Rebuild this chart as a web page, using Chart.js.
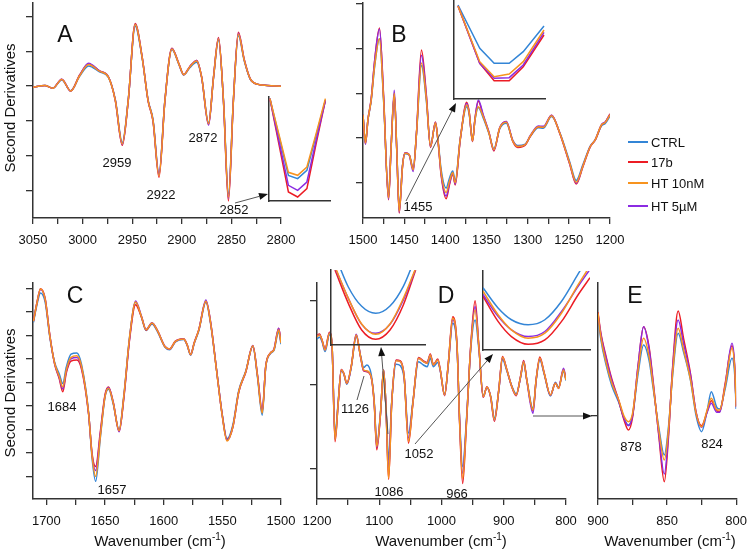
<!DOCTYPE html>
<html>
<head>
<meta charset="utf-8">
<script src="https://cdn.jsdelivr.net/npm/chart.js@4.4.0/dist/chart.umd.min.js"></script>
<style>
  html, body { margin: 0; padding: 0; background: #fff; }
  #wrap { position: relative; width: 756px; height: 551px; overflow: hidden;
          font-family: "Liberation Sans", Arial, sans-serif; color: #111; }
  #wrap canvas { position: absolute; left: 0; top: 0; }
  .t { position: absolute; white-space: nowrap; transform: translate(-50%, -50%);
       font-size: 13px; line-height: 1; }
  .big { font-size: 23px; }
  .yt { font-size: 15px; transform: translate(-50%, -50%) rotate(-90deg); }
  .xt { font-size: 15px; }
  .xt sup { font-size: 10px; vertical-align: baseline; position: relative; top: -6px; }
  .lg { position: absolute; left: 628px; width: 20px; height: 0; border-top: 2px solid; }
  .lt { position: absolute; left: 651px; font-size: 13px; line-height: 1; transform: translateY(-50%); }
</style>
</head>
<body>
<div id="wrap">
  <canvas id="cA" width="756" height="551"></canvas>
  <canvas id="cB" width="756" height="551"></canvas>
  <canvas id="cC" width="756" height="551"></canvas>
  <canvas id="cD" width="756" height="551"></canvas>
  <canvas id="cE" width="756" height="551"></canvas>
  <canvas id="iA" width="756" height="551"></canvas>
  <canvas id="iB" width="756" height="551"></canvas>
  <canvas id="iD1" width="756" height="551"></canvas>
  <canvas id="iD2" width="756" height="551"></canvas>

  <div class="t yt" style="left:9px;top:108px">Second Derivatives</div>
  <div class="t yt" style="left:9px;top:393px">Second Derivatives</div>
  <div class="t xt" style="left:160px;top:540px">Wavenumber (cm<sup>-1</sup>)</div>
  <div class="t xt" style="left:441px;top:540px">Wavenumber (cm<sup>-1</sup>)</div>
  <div class="t xt" style="left:670px;top:540px">Wavenumber (cm<sup>-1</sup>)</div>

  <div class="t big" style="left:65px;top:34px">A</div>
  <div class="t big" style="left:399px;top:34px">B</div>
  <div class="t big" style="left:75px;top:295px">C</div>
  <div class="t big" style="left:446px;top:295px">D</div>
  <div class="t big" style="left:635px;top:295px">E</div>

  <div class="t" style="left:117px;top:162px">2959</div>
  <div class="t" style="left:161px;top:194px">2922</div>
  <div class="t" style="left:203px;top:137px">2872</div>
  <div class="t" style="left:234px;top:209px">2852</div>
  <div class="t" style="left:418px;top:206px">1455</div>
  <div class="t" style="left:62px;top:406px">1684</div>
  <div class="t" style="left:112px;top:489px">1657</div>
  <div class="t" style="left:355px;top:408px">1126</div>
  <div class="t" style="left:389px;top:491px">1086</div>
  <div class="t" style="left:419px;top:453px">1052</div>
  <div class="t" style="left:457px;top:493px">966</div>
  <div class="t" style="left:631px;top:446px">878</div>
  <div class="t" style="left:712px;top:443px">824</div>

  <div class="lg" style="top:141px;border-color:#3385d6"></div><div class="lt" style="top:142px">CTRL</div>
  <div class="lg" style="top:161px;border-color:#ec1c24"></div><div class="lt" style="top:162px">17b</div>
  <div class="lg" style="top:182px;border-color:#f7931e"></div><div class="lt" style="top:183px">HT 10nM</div>
  <div class="lg" style="top:205px;border-color:#8b2be2"></div><div class="lt" style="top:206px">HT 5µM</div>
</div>

<script>
// ── Panel A: 3050–2800 cm-1 ──
const aX    = [3050, 3038, 3030, 3021, 3012, 3003, 2994, 2983, 2974, 2967, 2960, 2954, 2947, 2940, 2934, 2929, 2923, 2917, 2910, 2903, 2898, 2892, 2885, 2880, 2873, 2868, 2863, 2858, 2853, 2848, 2843, 2837, 2831, 2823, 2814, 2800];
const aCtrl = [-0.03, 0.02, -0.06, 0.18, -0.13, 0.28, 0.58, 0.41, 0.25, -0.39, -1.62, -0.40, 1.72, 0.81, -0.40, -0.96, -2.52, -0.40, 1.05, 0.63, 0.32, 0.53, 0.69, 0.25, -1.05, 0.25, 1.32, -0.40, -3.10, -0.40, 1.45, 0.72, 0.20, 0.05, 0.02, 0.00];
const a17b  = [-0.03, 0.02, -0.06, 0.20, -0.14, 0.32, 0.64, 0.44, 0.27, -0.42, -1.70, -0.42, 1.80, 0.85, -0.42, -1.01, -2.62, -0.42, 1.09, 0.65, 0.33, 0.56, 0.74, 0.26, -1.10, 0.27, 1.40, -0.43, -3.30, -0.43, 1.55, 0.76, 0.21, 0.05, 0.02, 0.00];
const aHt10 = [-0.03, 0.02, -0.06, 0.19, -0.14, 0.30, 0.62, 0.43, 0.26, -0.41, -1.66, -0.41, 1.77, 0.83, -0.41, -0.99, -2.58, -0.41, 1.07, 0.64, 0.33, 0.55, 0.72, 0.26, -1.08, 0.26, 1.36, -0.41, -3.19, -0.41, 1.50, 0.74, 0.21, 0.05, 0.02, 0.00];
const aHt5  = [-0.03, 0.02, -0.06, 0.20, -0.14, 0.31, 0.66, 0.44, 0.27, -0.41, -1.68, -0.41, 1.78, 0.84, -0.41, -1.00, -2.55, -0.41, 1.08, 0.64, 0.33, 0.56, 0.74, 0.26, -1.12, 0.26, 1.38, -0.42, -3.22, -0.42, 1.52, 0.75, 0.21, 0.05, 0.02, 0.00];
const aTicks = [3050, 3025, 3000, 2975, 2950, 2925, 2900, 2875, 2850, 2825, 2800];
const aLabels = [3050, 3000, 2950, 2900, 2850, 2800];

// ── Panel B: 1500–1200 cm-1 ──
const bX    = [1500, 1497, 1494, 1490, 1486, 1480, 1475, 1469, 1466, 1462, 1459, 1456, 1452, 1449, 1444, 1439, 1435, 1429, 1423, 1418, 1412, 1409, 1405, 1399, 1395, 1391, 1388, 1382, 1374, 1371, 1367, 1364, 1360, 1354, 1347, 1341, 1334, 1326, 1318, 1312, 1303, 1297, 1287, 1281, 1271, 1261, 1249, 1241, 1233, 1224, 1218, 1210, 1206, 1200];
const bCtrl = [0.52, -0.10, 0.40, 0.84, 1.58, 2.22, 0.84, -1.30, -0.24, 0.96, -0.24, -1.60, -0.61, -0.35, -0.37, -0.68, 0.10, 1.62, 0.82, -0.17, 0.33, -0.03, -0.72, -1.12, -0.90, -0.74, -0.96, -0.03, 0.70, 0.53, -0.05, 0.40, 0.68, 0.45, 0.10, -0.24, 0.20, 0.33, -0.06, -0.17, -0.14, 0.03, 0.23, 0.22, 0.48, 0.12, -0.53, -0.95, -0.60, -0.18, -0.04, 0.28, 0.32, 0.49];
const b17b  = [0.52, -0.13, 0.41, 0.88, 1.70, 2.46, 0.95, -1.38, -0.28, 0.98, -0.28, -1.68, -0.63, -0.33, -0.37, -0.70, 0.13, 1.97, 0.95, -0.21, 0.36, -0.05, -0.85, -1.36, -1.05, -0.80, -1.05, -0.06, 0.80, 0.58, -0.08, 0.43, 0.82, 0.50, 0.12, -0.29, 0.22, 0.37, -0.08, -0.21, -0.16, 0.03, 0.25, 0.24, 0.51, 0.10, -0.58, -1.03, -0.65, -0.20, -0.05, 0.30, 0.35, 0.54];
const bHt10 = [0.52, -0.11, 0.41, 0.86, 1.60, 2.22, 0.86, -1.34, -0.26, 1.00, -0.26, -1.64, -0.63, -0.34, -0.37, -0.71, 0.11, 1.68, 0.86, -0.19, 0.34, -0.04, -0.78, -1.22, -0.97, -0.77, -1.00, -0.04, 0.74, 0.56, -0.07, 0.41, 0.70, 0.48, 0.11, -0.26, 0.22, 0.35, -0.07, -0.19, -0.15, 0.04, 0.25, 0.24, 0.50, 0.11, -0.56, -0.99, -0.63, -0.19, -0.04, 0.30, 0.34, 0.52];
const bHt5  = [0.52, -0.14, 0.41, 0.88, 1.70, 2.44, 0.92, -1.37, -0.26, 1.07, -0.27, -1.66, -0.63, -0.33, -0.38, -0.75, 0.12, 1.85, 0.92, -0.20, 0.35, -0.04, -0.82, -1.30, -1.02, -0.79, -1.03, -0.05, 0.77, 0.57, -0.07, 0.42, 0.85, 0.52, 0.13, -0.27, 0.23, 0.37, -0.06, -0.19, -0.15, 0.05, 0.27, 0.26, 0.51, 0.11, -0.57, -1.01, -0.63, -0.19, -0.04, 0.31, 0.35, 0.53];
const bTicks = [1500, 1475, 1450, 1425, 1400, 1375, 1350, 1325, 1300, 1275, 1250, 1225, 1200];
const bLabels = [1500, 1450, 1400, 1350, 1300, 1250, 1200];

// ── Panel C: 1711–1500 cm-1 ──
const cX    = [1711, 1708, 1705, 1701, 1697, 1693, 1689, 1686, 1683, 1679, 1674, 1670, 1664, 1661, 1658, 1654, 1650, 1647, 1643, 1638, 1634, 1629, 1624, 1619, 1615, 1610, 1605, 1599, 1595, 1590, 1583, 1580, 1577, 1574, 1570, 1564, 1560, 1555, 1550, 1546, 1541, 1536, 1530, 1524, 1520, 1516, 1513, 1509, 1506, 1502, 1500];
const cCtrl = [1.55, 2.30, 2.80, 2.40, 0.90, -0.15, -0.65, -1.05, -0.35, 0.20, 0.25, -0.25, -2.30, -4.25, -5.21, -3.35, -1.62, -1.30, -1.92, -3.02, -1.58, 0.95, 2.40, 1.78, 1.20, 1.48, 1.12, 0.50, 0.38, 0.72, 0.82, 0.57, 0.15, 0.65, 1.20, 2.40, 1.48, -0.45, -2.40, -3.40, -2.80, -1.35, -0.52, 0.52, -0.80, -2.40, -0.35, 0.22, 0.35, 1.15, 0.62];
const c17b  = [1.62, 2.40, 2.98, 2.55, 0.98, -0.22, -0.85, -1.40, -0.60, -0.10, -0.05, -0.45, -2.35, -4.05, -4.58, -3.10, -1.52, -1.20, -1.85, -3.08, -1.68, 0.85, 2.30, 1.78, 1.22, 1.52, 1.16, 0.52, 0.42, 0.75, 0.85, 0.60, 0.18, 0.68, 1.25, 2.44, 1.55, -0.45, -2.42, -3.45, -2.90, -1.42, -0.56, 0.55, -0.70, -2.25, -0.30, 0.25, 0.40, 1.30, 0.72];
const cHt10 = [1.59, 2.37, 2.96, 2.51, 0.95, -0.18, -0.75, -1.20, -0.47, 0.06, 0.13, -0.33, -2.31, -4.15, -5.00, -3.30, -1.60, -1.25, -1.88, -3.06, -1.60, 0.95, 2.41, 1.80, 1.23, 1.52, 1.16, 0.52, 0.41, 0.74, 0.84, 0.59, 0.17, 0.67, 1.23, 2.44, 1.52, -0.47, -2.45, -3.50, -2.88, -1.39, -0.54, 0.55, -0.75, -2.31, -0.33, 0.24, 0.38, 1.23, 0.67];
const cHt5  = [1.60, 2.38, 2.94, 2.52, 0.96, -0.20, -0.80, -1.28, -0.52, 0.00, 0.05, -0.38, -2.33, -4.10, -4.75, -3.20, -1.58, -1.22, -1.86, -3.10, -1.65, 0.90, 2.45, 1.82, 1.24, 1.53, 1.17, 0.53, 0.40, 0.74, 0.84, 0.59, 0.17, 0.67, 1.24, 2.50, 1.55, -0.45, -2.44, -3.47, -2.88, -1.40, -0.55, 0.56, -0.72, -2.20, -0.32, 0.24, 0.40, 1.30, 0.70];
const cTicks = [1700, 1675, 1650, 1625, 1600, 1575, 1550, 1525, 1500];
const cLabels = [1700, 1650, 1600, 1550, 1500];

// ── Panel D: 1200–800 cm-1 ──
const dX    = [1200, 1196, 1192, 1187, 1180, 1176, 1171, 1166, 1161, 1157, 1152, 1145, 1137, 1130, 1125, 1120, 1113, 1108, 1104, 1098, 1093, 1089, 1085, 1080, 1073, 1066, 1060, 1053, 1046, 1037, 1029, 1023, 1018, 1013, 1006, 1002, 995, 989, 982, 975, 971, 966, 960, 953, 946, 940, 933, 927, 921, 915, 908, 902, 895, 887, 880, 873, 868, 863, 853, 848, 842, 835, 825, 817, 812, 804, 800];
const dCtrl = [5.40, 5.60, 5.10, 3.90, 5.90, 4.80, -6.00, -2.10, 1.60, 1.25, 0.00, 2.00, 5.70, 3.40, 2.00, 2.30, 1.20, -2.10, -7.20, -3.30, 1.70, -2.90, -9.00, -2.10, 2.40, 2.20, 0.70, -5.80, -2.10, 2.70, 2.30, 2.10, 3.10, 2.10, 2.60, 1.60, -1.20, 2.35, 7.26, 4.30, -3.90, -9.80, -4.30, 4.20, 7.66, 4.20, -1.35, -0.40, -1.40, -4.00, -0.75, 2.95, 1.60, -0.20, -1.15, 0.80, 2.55, 0.55, -2.90, 0.45, 2.90, 1.20, -1.40, 0.25, -0.35, 1.55, 0.45];
const d17b  = [5.80, 6.00, 5.30, 4.20, 6.20, 4.90, -6.83, -2.30, 1.75, 1.30, 0.10, 2.15, 5.90, 3.25, 1.60, 1.50, 0.85, -2.40, -7.80, -3.55, 1.70, -3.20, -11.3, -2.30, 2.90, 2.80, 0.95, -7.00, -2.30, 3.20, 2.80, 2.60, 3.60, 2.35, 3.00, 1.75, -1.35, 2.55, 8.05, 4.60, -4.40, -11.8, -4.80, 4.60, 9.96, 4.60, -1.55, -0.30, -1.55, -4.40, -0.70, 3.30, 1.75, -0.30, -1.35, 0.95, 2.85, 0.55, -3.15, 0.55, 3.25, 1.35, -1.30, 0.15, -0.50, 1.80, 0.55];
const dHt10 = [5.67, 5.87, 5.28, 4.09, 6.07, 4.88, -6.60, -2.26, 1.71, 1.31, 0.12, 2.10, 5.87, 3.29, 1.71, 1.60, 0.91, -2.26, -7.40, -3.45, 1.71, -3.06, -11.2, -2.26, 2.82, 2.70, 0.91, -6.80, -2.26, 3.10, 2.70, 2.50, 3.49, 2.30, 2.90, 1.71, -1.27, 2.50, 7.86, 4.48, -4.25, -11.2, -4.64, 4.48, 8.85, 4.48, -1.47, -0.36, -1.47, -4.25, -0.67, 3.21, 1.71, -0.28, -1.27, 0.91, 2.70, 0.52, -3.06, 0.52, 3.10, 1.31, -1.27, 0.12, -0.48, 1.71, 0.52];
const dHt5  = [5.70, 5.90, 5.25, 4.10, 6.10, 4.85, -6.50, -2.25, 1.70, 1.30, 0.10, 2.10, 5.95, 3.30, 1.65, 1.55, 0.88, -2.30, -7.50, -3.50, 1.70, -3.10, -10.5, -2.25, 2.85, 2.70, 0.92, -6.40, -2.25, 3.10, 2.72, 2.52, 3.50, 2.30, 2.90, 1.70, -1.30, 2.50, 7.70, 4.45, -4.20, -10.6, -4.55, 4.50, 9.25, 4.50, -1.50, -0.35, -1.50, -4.30, -0.65, 3.20, 1.70, -0.30, -1.30, 0.90, 2.75, 0.45, -3.45, 0.50, 3.05, 1.30, -1.30, 0.12, -0.45, 1.90, 0.60];
const dTicks = [1200, 1150, 1100, 1050, 1000, 950, 900, 850, 800];
const dLabels = [1200, 1100, 1000, 900, 800];

// ── Panel E: 900–800 cm-1 ──
const eX    = [900, 898, 894, 890, 885, 881, 878, 875, 871, 867, 863, 860, 856, 852, 849, 846, 842, 838, 833, 829, 825, 821, 818, 814, 812, 808, 803, 801, 800];
const eCtrl = [3.00, 2.30, 1.50, 0.90, 0.40, -0.10, -0.28, 0.00, 1.25, 2.12, 1.65, 0.80, -0.35, -1.18, -0.35, 1.20, 2.47, 1.90, 1.05, 0.00, -0.48, 0.15, 0.72, 0.25, 0.20, 0.80, 1.72, 1.20, 0.20];
const e17b  = [3.10, 2.50, 1.75, 1.10, 0.45, -0.15, -0.43, -0.05, 1.50, 2.67, 2.05, 1.00, -0.60, -1.98, -0.65, 1.45, 3.14, 2.30, 1.25, 0.10, -0.30, 0.12, 0.45, 0.15, 0.12, 0.95, 2.10, 1.40, 0.30];
const eHt10 = [3.07, 2.37, 1.57, 0.97, 0.47, -0.03, -0.18, 0.07, 1.37, 2.32, 1.77, 0.87, -0.43, -1.33, -0.43, 1.27, 2.62, 1.97, 1.07, 0.07, -0.33, 0.17, 0.52, 0.17, 0.17, 0.87, 2.02, 1.37, 0.27];
const eHt5  = [3.05, 2.45, 1.70, 1.05, 0.45, -0.10, -0.30, 0.00, 1.50, 2.67, 2.00, 0.95, -0.55, -1.75, -0.55, 1.40, 2.87, 2.15, 1.20, 0.10, -0.35, 0.10, 0.37, 0.10, 0.10, 0.90, 2.17, 1.45, 0.25];
const eTicks = [900, 875, 850, 825, 800];
const eLabels = [900, 850, 800];

// ── Insets (zoomed minima, arbitrary units) ──
const inAX    = [0, 1, 2, 3, 4, 5, 6];
const inACtrl = [307, 192, 77, 67, 92, 197, 302];
const inA17b  = [307, 167, 27, 12, 37, 172, 302];
const inAHt10 = [307, 197, 86, 77, 102, 202, 307];
const inAHt5  = [307, 177, 47, 32, 57, 182, 302];

const inBX    = [30, 95, 138, 183, 225, 287];
const inBCtrl = [282, 152, 107, 107, 142, 219];
const inB17b  = [279, 107, 55, 55, 97, 192];
const inBHt10 = [279, 112, 67, 75, 112, 207];
const inBHt5  = [279, 107, 62, 64, 102, 200];

const inD1X    = [30, 70, 110, 152, 195, 235, 272];
const inD1Ctrl = [270, 174, 116, 95, 117, 176, 265];
const inD117b  = [225, 125, 45, 17, 45, 120, 225];
const inD1Ht10 = [235, 140, 63, 32, 63, 140, 230];
const inD1Ht5  = [232, 140, 62, 35, 62, 135, 228];

const inD2X    = [15, 60, 100, 150, 200, 250, 300, 335];
const inD2Ctrl = [185, 125, 90, 75, 90, 145, 227, 285];
const inD217b  = [160, 85, 40, 17, 30, 85, 165, 215];
const inD2Ht10 = [175, 105, 60, 35, 50, 110, 195, 250];
const inD2Ht5  = [165, 100, 60, 40, 55, 115, 190, 240];

// pointer arrows between panels and insets (page pixels)
const arrows = [
  { from: [235, 203], to: [268, 194], head: true },
  { from: [406, 201], to: [456, 103], head: true },
  { from: [357, 400], to: [364, 376], head: false },
  { from: [388, 434], to: [381, 347], head: true },
  { from: [415, 444], to: [493, 354], head: true },
  { from: [533, 416], to: [592, 416], head: true }
];

const W = 756, H = 551;
const FONT = '"Liberation Sans", Arial, sans-serif';
const AXIS = '#333';
const COL = { ctrl: '#3385d6', b17: '#ec1c24', ht10: '#f7931e', ht5: '#8b2be2' };

function pts(xs, ys) {
  return xs.map((x, i) => ({ x, y: ys[i] }));
}

function makeSets(xs, ctrl, b17, ht10, ht5, smooth) {
  const mk = (label, ys, color, order) => ({
    label, data: pts(xs, ys), borderColor: color, borderWidth: 1.5,
    pointRadius: 0, fill: false, order,
    tension: smooth ? 0.4 : 0,
    cubicInterpolationMode: smooth ? 'monotone' : 'default'
  });
  // orange on top, blue at the back
  return [mk('CTRL', ctrl, COL.ctrl, 3), mk('17b', b17, COL.b17, 2),
          mk('HT 10nM', ht10, COL.ht10, 0), mk('HT 5µM', ht5, COL.ht5, 1)];
}

/**
 * Main panel: area = [left, top, right, bottom] of the plot box in page pixels.
 */
function panel(id, area, sets, xr, yr, xTicks, xLabels, yTicks) {
  const [l, t, r, b] = area;
  return new Chart(document.getElementById(id), {
    type: 'line',
    data: { datasets: sets },
    options: {
      responsive: false, animation: false, events: [],
      layout: { padding: { left: l - 8, top: t, right: W - r, bottom: H - b - 30 } },
      plugins: { legend: { display: false }, tooltip: { enabled: false } },
      scales: {
        x: {
          type: 'linear', min: xr[0], max: xr[1], reverse: true,
          afterFit: s => { s.height = 30; },
          afterBuildTicks: s => { s.ticks = xTicks.map(v => ({ value: v })); },
          grid: { drawOnChartArea: false, tickLength: 6, color: AXIS, lineWidth: 1.3 },
          border: { color: AXIS, width: 1.5 },
          ticks: {
            autoSkip: false, maxRotation: 0, padding: 9, color: '#111',
            font: { family: FONT, size: 13 },
            callback: v => xLabels.includes(v) ? String(v) : ''
          }
        },
        y: {
          type: 'linear', min: yr[0], max: yr[1],
          afterFit: s => { s.width = 8; },
          afterBuildTicks: s => { s.ticks = yTicks.map(v => ({ value: v })); },
          grid: { drawOnChartArea: false, tickLength: 7, color: AXIS, lineWidth: 1.3 },
          border: { color: AXIS, width: 1.5 },
          ticks: { display: false }
        }
      }
    }
  });
}

function inset(id, area, sets, xr, yr, extra) {
  const [l, t, r, b] = area;
  const sc = (min, max, horiz) => ({
    type: 'linear', min, max,
    afterFit: s => { if (horiz) s.height = 0; else s.width = 0; },
    grid: { drawOnChartArea: false, drawTicks: false },
    border: { color: AXIS, width: 1.5 },
    ticks: { display: false }
  });
  return new Chart(document.getElementById(id), {
    type: 'line',
    data: { datasets: sets },
    options: {
      responsive: false, animation: false, events: [],
      layout: { padding: { left: l, top: t, right: W - r, bottom: H - b } },
      plugins: { legend: { display: false }, tooltip: { enabled: false } },
      scales: { x: sc(xr[0], xr[1], true), y: sc(yr[0], yr[1], false) }
    },
    plugins: extra || []
  });
}

const arrowPlugin = {
  id: 'arrows',
  afterDraw(chart) {
    const ctx = chart.ctx;
    ctx.save();
    ctx.strokeStyle = '#555';
    ctx.fillStyle = '#111';
    ctx.lineWidth = 1;
    arrows.forEach(a => {
      const [x1, y1] = a.from, [x2, y2] = a.to;
      const ang = Math.atan2(y2 - y1, x2 - x1);
      const hl = a.head ? 9 : 0;
      ctx.beginPath();
      ctx.moveTo(x1, y1);
      ctx.lineTo(x2 - hl * Math.cos(ang), y2 - hl * Math.sin(ang));
      ctx.stroke();
      if (a.head) {
        ctx.beginPath();
        ctx.moveTo(x2, y2);
        ctx.lineTo(x2 - hl * Math.cos(ang) + 3.5 * Math.sin(ang), y2 - hl * Math.sin(ang) - 3.5 * Math.cos(ang));
        ctx.lineTo(x2 - hl * Math.cos(ang) - 3.5 * Math.sin(ang), y2 - hl * Math.sin(ang) + 3.5 * Math.cos(ang));
        ctx.closePath();
        ctx.fill();
      }
    });
    ctx.restore();
  }
};

panel('cA', [33, 3, 281, 218], makeSets(aX, aCtrl, a17b, aHt10, aHt5, true),
      [2800, 3050], [-3.79, 2.39], aTicks, aLabels, [-3, -2, -1, 0, 1, 2]);
panel('cB', [363, 3, 610, 218], makeSets(bX, bCtrl, b17b, bHt10, bHt5, true),
      [1200, 1500], [-1.79, 3.02], bTicks, bLabels, [-1, 0, 1, 2, 3]);
panel('cC', [33, 283, 281, 499], makeSets(cX, cCtrl, c17b, cHt10, cHt5, true),
      [1500, 1711.4], [-5.96, 3.22], cTicks, cLabels, [-5, -4, -3, -2, -1, 0, 1, 2, 3]);
panel('cD', [317, 283, 566, 499], makeSets(dX, dCtrl, d17b, dHt10, dHt5, true),
      [800, 1200], [-13.65, 12.06], dTicks, dLabels, [-10, 0, 10]);
panel('cE', [598, 283, 743, 499], makeSets(eX, eCtrl, e17b, eHt10, eHt5, true),
      [800, 900], [-2.5, 3.98], eTicks, eLabels, [0]);

inset('iA', [269, 97, 330, 201], makeSets(inAX, inACtrl, inA17b, inAHt10, inAHt5, false),
      [-0.1, 6.5], [0, 312]);
inset('iB', [454, 0, 545, 99], makeSets(inBX, inBCtrl, inB17b, inBHt10, inBHt5, false),
      [18, 290], [0, 297]);
inset('iD1', [331, 270, 425, 345], makeSets(inD1X, inD1Ctrl, inD117b, inD1Ht10, inD1Ht5, true),
      [18, 300], [0, 225]);
inset('iD2', [483, 271, 590, 350], makeSets(inD2X, inD2Ctrl, inD217b, inD2Ht10, inD2Ht5, true),
      [15, 335], [0, 235], [arrowPlugin]);
</script>
</body>
</html>
